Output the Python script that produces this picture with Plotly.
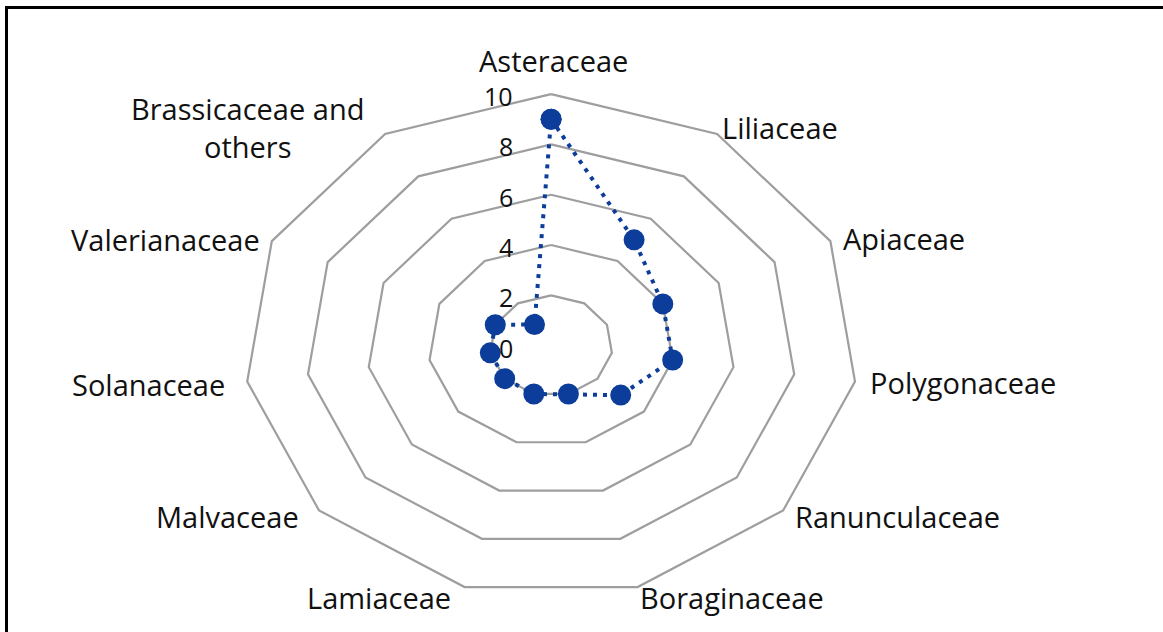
import numpy as np
import plotly.graph_objects as go

# Plant families (clockwise from the top) and number of species per family
families = ["Asteraceae", "Liliaceae", "Apiaceae", "Polygonaceae", "Ranunculaceae",
            "Boraginaceae", "Lamiaceae", "Malvaceae", "Solanaceae", "Valerianaceae",
            "Brassicaceae and<br>others"]
counts = [9, 5, 4, 4, 3, 2, 2, 2, 2, 2, 1]
tick_values = [0, 2, 4, 6, 8, 10]
tick_labels = ["0", "2", "4", "6", "8", "10"]

# Label placement offsets (pixels) relative to each outer-ring vertex
label_style = [
    ("center", 2, 34), ("left", 3, 7), ("left", 11, 3), ("left", 13, -1),
    ("left", 10, -6), ("left", 0, -10), ("right", -12, -10), ("right", -18, -6),
    ("right", -20, -3), ("right", -10, 2), ("right", -19, 7),
]

FONT = "Open Sans, Noto Sans, sans-serif"
TEXT_COLOR = "#111111"
GRID_COLOR = "#9e9e9e"
SERIES_COLOR = "#0c3d9a"

n = len(families)
theta = 2 * np.pi * np.arange(n) / n  # clockwise from 12 o'clock


def to_xy(r, ang):
    r = np.asarray(r, dtype=float)
    return r * np.sin(ang), r * np.cos(ang)


fig = go.Figure()

# Polygon gridlines for each radial tick
for t in tick_values[1:]:
    gx, gy = to_xy(np.full(n + 1, t), np.append(theta, theta[0]))
    fig.add_trace(go.Scatter(x=gx, y=gy, mode="lines",
                             line=dict(color=GRID_COLOR, width=2.2),
                             hoverinfo="skip", showlegend=False))

# Data series (closed loop)
sx, sy = to_xy(np.append(counts, counts[0]), np.append(theta, theta[0]))
fig.add_trace(go.Scatter(
    x=sx, y=sy, mode="lines+markers",
    line=dict(color=SERIES_COLOR, width=4, dash="4px,6px"),
    marker=dict(color=SERIES_COLOR, size=21),
    customdata=np.append(families, families[0]),
    hovertemplate="%{customdata}: %{text}<extra></extra>",
    text=np.append(counts, counts[0]),
    showlegend=False,
))

annotations = []
# Category labels around the outer ring
r_max = tick_values[-1]
ox, oy = to_xy(np.full(n, r_max), theta)
for name, x, y, (anchor, dx, dy) in zip(families, ox, oy, label_style):
    annotations.append(dict(
        x=x, y=y, xref="x", yref="y", text=name, showarrow=False,
        xanchor=anchor, yanchor="middle", xshift=dx, yshift=dy, align="center",
        font=dict(family=FONT, size=29, color=TEXT_COLOR),
    ))

# Radial axis tick labels along the top spoke
for val, lab in zip(tick_values, tick_labels):
    annotations.append(dict(
        x=0, y=val, xref="x", yref="y", text=lab, showarrow=False,
        xanchor="right", yanchor="middle", xshift=-36, yshift=-2,
        font=dict(family=FONT, size=25, color=TEXT_COLOR),
    ))

fig.update_layout(
    width=1163, height=632,
    margin=dict(l=0, r=0, t=0, b=0),
    paper_bgcolor="white", plot_bgcolor="white",
    xaxis=dict(range=[-17.95, 19.93], visible=False, fixedrange=True),
    yaxis=dict(range=[-11.38, 13.74], visible=False, fixedrange=True),
    annotations=annotations,
    shapes=[dict(type="rect", xref="paper", yref="paper",
                 x0=6.5 / 1163, x1=1.02, y0=-0.02, y1=1 - 7.5 / 632,
                 line=dict(color="black", width=3))],
)

fig.write_html("out.html")
